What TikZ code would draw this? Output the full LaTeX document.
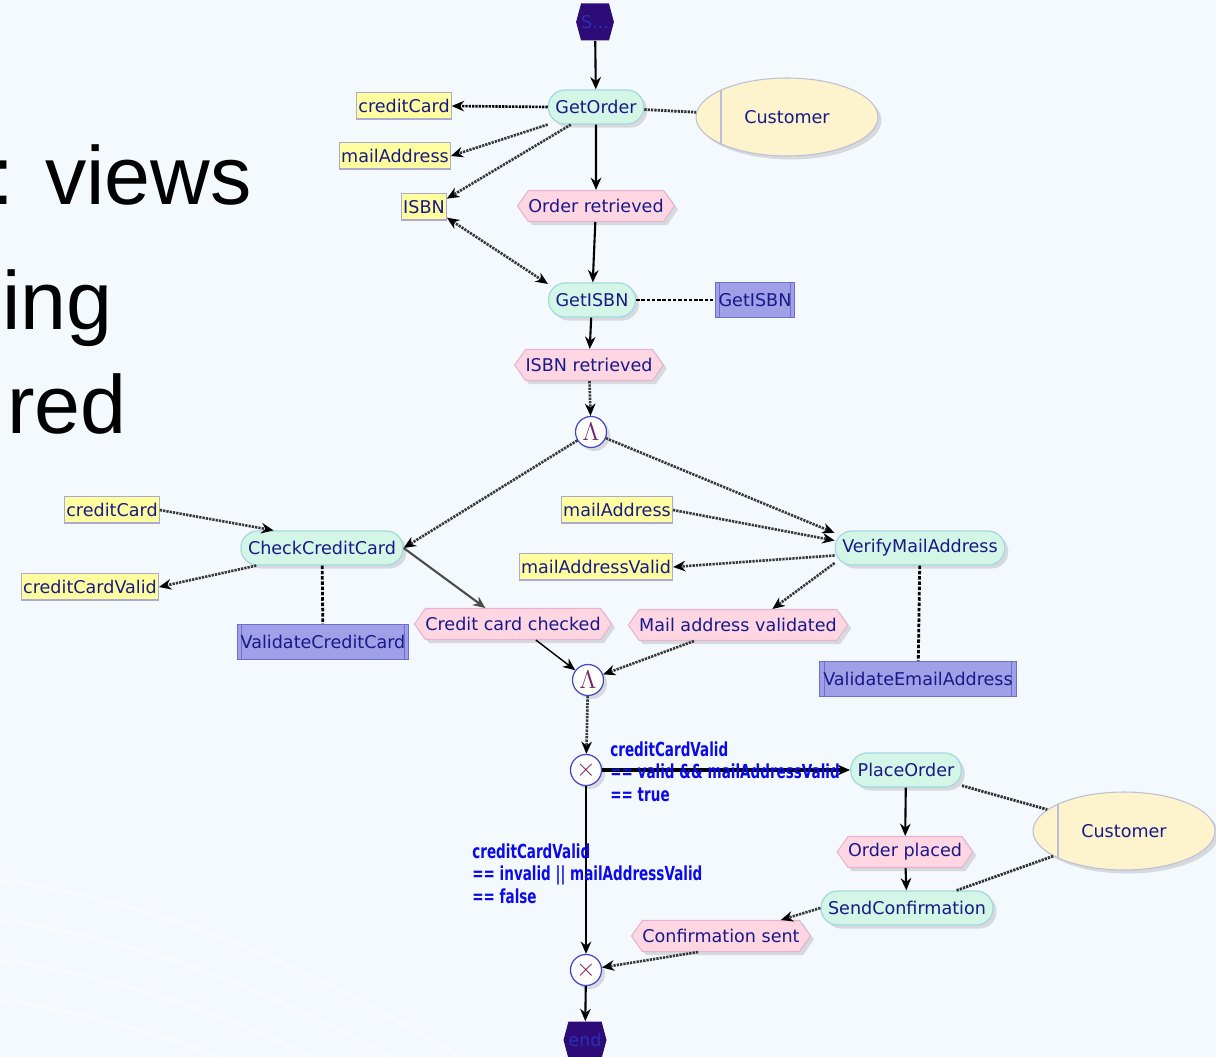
\documentclass[tikz,border=0pt]{standalone}
\usepackage{fontspec}
\setmainfont{DejaVu Sans}
\newfontfamily\slidefont{Liberation Sans}
\newfontfamily\condfont[FakeStretch=0.7]{DejaVu Sans}
\usetikzlibrary{arrows.meta, shapes.symbols, shapes.geometric, shadows}

\definecolor{bgblue}{RGB}{243,249,253}
\definecolor{navy}{RGB}{25,25,135}
\definecolor{actfill}{RGB}{212,246,230}
\definecolor{actline}{RGB}{165,215,228}
\definecolor{evfill}{RGB}{255,214,226}
\definecolor{evline}{RGB}{228,180,210}
\definecolor{datafill}{RGB}{255,255,160}
\definecolor{dataline}{RGB}{170,170,210}
\definecolor{svcfill}{RGB}{160,160,232}
\definecolor{svcline}{RGB}{110,110,205}
\definecolor{custfill}{RGB}{253,243,204}
\definecolor{custline}{RGB}{190,190,215}
\definecolor{termfill}{RGB}{46,12,120}
\definecolor{gateline}{RGB}{70,70,200}
\definecolor{gatesym}{RGB}{120,40,105}
\definecolor{condblue}{RGB}{10,10,235}

\tikzset{
  every node/.style={font=\fontsize{10}{12}\selectfont, text=navy},
  shade/.style={drop shadow={shadow xshift=2pt, shadow yshift=-2pt, opacity=0.25, fill=gray}},
  activity/.style={rectangle, rounded corners=9.5pt, draw=actline, fill=actfill, line width=0.7pt,
    minimum height=0.68cm, inner xsep=4pt, shade},
  event/.style={signal, signal to=east and west, signal pointer angle=110, draw=evline, fill=evfill,
    line width=0.6pt, minimum height=0.62cm, inner xsep=0pt, shade},
  datanode/.style={rectangle, fill=datafill, draw=dataline, line width=0.4pt, minimum height=0.54cm,
    inner xsep=1pt, inner ysep=1pt,
    path picture={\draw[dataline, line width=2.2pt]
      (path picture bounding box.south west) -- (path picture bounding box.south east);}},
  service/.style={rectangle, fill=svcfill, draw=svcline, line width=0.6pt, minimum height=0.7cm,
    inner xsep=2pt,
    path picture={\draw[svcline, line width=0.6pt]
      ([xshift=2.5pt]path picture bounding box.north west) -- ([xshift=2.5pt]path picture bounding box.south west)
      ([xshift=-2.5pt]path picture bounding box.north east) -- ([xshift=-2.5pt]path picture bounding box.south east);}},
  performer/.style={ellipse, fill=custfill, draw=custline, line width=0.6pt, minimum width=3.64cm,
    minimum height=1.56cm, inner sep=0pt, shade,
    path picture={\draw[custline, line width=0.7pt]
      ([xshift=0.5cm]path picture bounding box.north west) -- ([xshift=0.5cm]path picture bounding box.south west);}},
  gateway/.style={circle, fill=white, draw=gateline, line width=0.7pt, minimum size=0.62cm, inner sep=0pt,
    text=gatesym, font=\bfseries\fontsize{14}{14}\selectfont, shade},
  terminal/.style={signal, signal to=east and west, signal pointer angle=150, fill=termfill,
    minimum width=0.64cm, minimum height=0.74cm, inner xsep=0pt, text={rgb,255:red,45;green,45;blue,180}},
  cond/.style={text=condblue, align=left, inner sep=0pt, anchor=north west,
    font=\condfont\bfseries\fontsize{11}{13}\selectfont},
  slidetext/.style={text=black, anchor=base east, inner sep=0pt, font=\slidefont\fontsize{47}{56}\selectfont},
  flow/.style={-{Stealth[length=7pt, width=6pt]}, line width=1.2pt, black},
  dflow/.style={-{Stealth[length=7pt, width=6pt, black]}, line width=1.5pt, gray!45!black,
    dash pattern=on 1.3pt off 0.6pt},
  dboth/.style={{Stealth[length=7pt, width=6pt, black]}-{Stealth[length=7pt, width=6pt, black]},
    line width=1.5pt, gray!45!black, dash pattern=on 1.3pt off 0.6pt},
  link/.style={line width=1.6pt, gray!40!black, dash pattern=on 1.3pt off 0.6pt},
  svclink/.style={line width=1.6pt, black, dash pattern=on 2pt off 1pt}
}

\begin{document}
\begin{tikzpicture}[x=0.02cm, y=-0.02cm]
\useasboundingbox (0,0) rectangle (1216,1057);
\clip (0,0) rectangle (1216,1057);

%Slide background
\fill[bgblue] (0,0) rectangle (1216,1057);
\foreach \d in {0,40,80,120}
  \draw[white, line width=2.5pt, opacity=0.45] (0,880+\d) .. controls (150,900+\d) and (300,960+\d) .. (460,1057+\d);

%Slide text behind the picture
\node[slidetext] (views) at (252,205){t: views};
\node[slidetext] (ing) at (113,330){ing};
\node[slidetext] (red) at (127,433){red};

%Start, end and gateways
\node[terminal] (start) at (595,22){S...};
\node[gateway] (AndSplit) at (591,432){$\Lambda$};
\node[gateway] (AndJoin) at (588,680){$\Lambda$};
\node[gateway] (XorSplit) at (586,770){$\times$};
\node[gateway] (XorJoin) at (586,970){$\times$};
\node[terminal] (end) at (585,1040){end};

%Activities
\node[activity] (GetOrder) at (596,107){GetOrder};
\node[activity] (GetISBN) at (592,300){GetISBN};
\node[activity] (CheckCC) at (322,548){CheckCreditCard};
\node[activity] (VerifyMail) at (920,548){VerifyMailAddress};
\node[activity] (PlaceOrder) at (906,770){PlaceOrder};
\node[activity] (SendConf) at (907,908){SendConfirmation};

%Events
\node[event] (OrderRet) at (596,206){Order retrieved};
\node[event] (ISBNRet) at (589,365){ISBN retrieved};
\node[event] (CCChecked) at (513,624){Credit card checked};
\node[event] (MailValidated) at (738,625){Mail address validated};
\node[event] (OrderPlaced) at (905,852){Order placed};
\node[event] (ConfSent) at (721,936){Confirmation sent};

%Data
\node[datanode] (creditCardA) at (404,106){creditCard};
\node[datanode] (mailAddressA) at (395,156){mailAddress};
\node[datanode] (ISBN) at (424,207){ISBN};
\node[datanode] (creditCardB) at (112,510){creditCard};
\node[datanode] (creditCardValid) at (90,587){creditCardValid};
\node[datanode] (mailAddressB) at (617,510){mailAddress};
\node[datanode] (mailAddressValid) at (596,567){mailAddressValid};

%Services and performers
\node[service] (GetISBNsvc) at (755,300){GetISBN};
\node[service] (ValidateCC) at (323,642){ValidateCreditCard};
\node[service] (ValidateEmail) at (918,679){ValidateEmailAddress};
\node[performer] (CustomerA) at (787,117){Customer};
\node[performer] (CustomerB) at (1124,831){Customer};

%Control flow
\draw[flow] (start) -- (GetOrder);
\draw[flow] (GetOrder) -- (OrderRet);
\draw[flow] (OrderRet) -- (GetISBN);
\draw[flow] (GetISBN) -- (ISBNRet);
\draw[dflow] (ISBNRet) -- (AndSplit);
\draw[dflow] (AndSplit) -- (CheckCC.east);
\draw[dflow] (AndSplit) -- (VerifyMail.170);
\draw[flow, gray!60!black] (CheckCC.east) -- (CCChecked.150);
\draw[dflow] (VerifyMail.190) -- (MailValidated.25);
\draw[flow, line width=0.8pt] (CCChecked.-35) -- (AndJoin);
\draw[dflow] (MailValidated.200) -- (AndJoin);
\draw[dflow] (AndJoin) -- (XorSplit);
\draw[flow, line width=1.8pt] (XorSplit) -- (PlaceOrder);
\draw[flow] (XorSplit) -- (XorJoin);
\draw[flow] (PlaceOrder) -- (OrderPlaced);
\draw[flow] (OrderPlaced) -- (SendConf);
\draw[dflow] (SendConf.west) -- (ConfSent.15);
\draw[dflow] (ConfSent.215) -- (XorJoin);
\draw[flow] (XorJoin) -- (end);

%Data flow
\draw[dflow, black] (GetOrder.west) -- (creditCardA.east);
\draw[dflow] (GetOrder.200) -- (mailAddressA.east);
\draw[dflow] (GetOrder.215) -- (ISBN.20);
\draw[dboth] (ISBN.-25) -- (GetISBN.160);
\draw[dflow] (creditCardB.east) -- (CheckCC.160);
\draw[dflow] (CheckCC.195) -- (creditCardValid.east);
\draw[dflow] (mailAddressB.east) -- (VerifyMail.175);
\draw[dflow] (VerifyMail.185) -- (mailAddressValid.east);

%Performers and services
\draw[link] (GetOrder) -- (CustomerA);
\draw[link] (PlaceOrder) -- (CustomerB);
\draw[link] (SendConf) -- (CustomerB);
\draw[svclink] (GetISBN) -- (GetISBNsvc);
\draw[svclink] (CheckCC) -- (ValidateCC);
\draw[svclink] (VerifyMail) -- (ValidateEmail);

%Conditions of the choice
\node[cond] (condTrue) at (610,741){creditCardValid\\== valid \&\& mailAddressValid\\== true};
\node[cond] (condFalse) at (472,843){creditCardValid\\== invalid || mailAddressValid\\== false};

\end{tikzpicture}
\end{document}
